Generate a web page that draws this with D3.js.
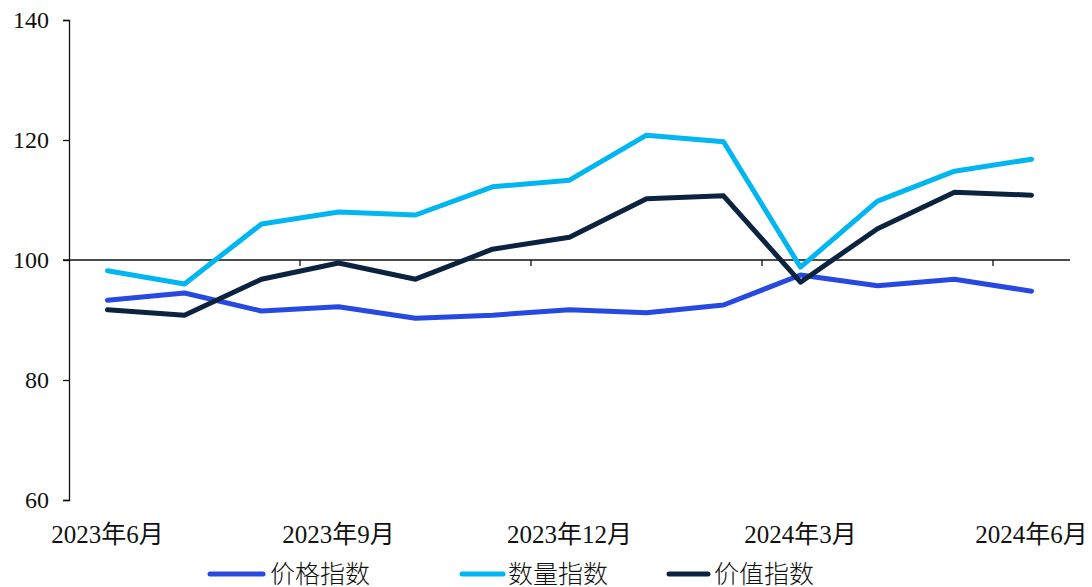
<!DOCTYPE html>
<html lang="zh">
<head>
	<meta charset="utf-8" />
	<title>价格 数量 价值指数</title>
	<script src="https://cdnjs.cloudflare.com/ajax/libs/d3/7.8.5/d3.min.js"></script>
	<style>
		body { margin: 0; background: #fff; }
		text { font-family: "Liberation Serif", "Noto Sans CJK SC", serif; fill: #111; }
	</style>
</head>
<body>
	<svg width="1092" height="587"></svg>
	<script>
		// months 2023-06 .. 2024-06
		let months = ["2023年6月", "2023年7月", "2023年8月", "2023年9月", "2023年10月", "2023年11月", "2023年12月",
			"2024年1月", "2024年2月", "2024年3月", "2024年4月", "2024年5月", "2024年6月"];
		let tickLabels = ["2023年6月", "2023年9月", "2023年12月", "2024年3月", "2024年6月"];
		let yTicks = [60, 80, 100, 120, 140];

		let priceIdx = [93.3, 94.5, 91.5, 92.2, 90.3, 90.8, 91.7, 91.2, 92.5, 97.5, 95.7, 96.8, 94.8];
		let volumeIdx = [98.2, 96.0, 106.0, 108.0, 107.5, 112.2, 113.3, 120.8, 119.7, 98.8, 109.8, 114.8, 116.8];
		let valueIdx = [91.7, 90.8, 96.8, 99.5, 96.8, 101.8, 103.8, 110.2, 110.7, 96.3, 105.2, 111.3, 110.8];

		let series = [
			{ name: "价格指数", values: priceIdx, color: "#2649e2" },
			{ name: "数量指数", values: volumeIdx, color: "#00b6f1" },
			{ name: "价值指数", values: valueIdx, color: "#0c2340" }
		];

		let svg = d3.select('svg');
		let plotL = 69, plotR = 1070, plotT = 20, plotB = 500;

		let x = d3.scaleBand().domain(months).range([plotL, plotR]);
		let y = d3.scaleLinear().domain([60, 140]).range([plotB, plotT]);
		let cx = m => x(m) + x.bandwidth() / 2;

		// y axis
		let yAxis = svg.append('g')
			.attr('transform', `translate(${plotL},0)`)
			.call(d3.axisLeft(y).tickValues(yTicks).tickSize(6).tickPadding(14));
		yAxis.select('.domain').attr('stroke', '#111').attr('stroke-width', 1.3);
		yAxis.selectAll('.tick line').attr('stroke', '#111').attr('stroke-width', 1.3);
		yAxis.selectAll('.tick text').attr('font-size', 24).attr('font-family', null).attr('fill', '#111');

		// horizontal category axis crossing at 100
		let catTicks = months.filter((m, i) => i % 3 == 0).map(m => x(m)).slice(1);
		let xAxis = svg.append('g').attr('transform', `translate(0,${y(100)})`);
		xAxis.append('line')
			.attr('x1', plotL - 6).attr('x2', plotR)
			.attr('stroke', '#111').attr('stroke-width', 1.3);
		xAxis.selectAll('line.tick')
			.data(catTicks)
			.enter()
			.append('line')
			.attr('class', 'tick')
			.attr('x1', d => d).attr('x2', d => d)
			.attr('y1', 0).attr('y2', 6)
			.attr('stroke', '#111').attr('stroke-width', 1.3);

		// category labels at bottom
		svg.selectAll('text.xlab')
			.data(tickLabels)
			.enter()
			.append('text')
			.attr('class', 'xlab')
			.attr('text-anchor', 'middle')
			.attr('font-size', 25)
			.attr('x', d => cx(d))
			.attr('y', 543)
			.text(d => d);

		let line = d3.line()
			.x((d, i) => cx(months[i]))
			.y(d => y(d));

		svg.selectAll('path.series')
			.data(series)
			.enter()
			.append('path')
			.attr('class', 'series')
			.attr('fill', 'none')
			.attr('stroke', d => d.color)
			.attr('stroke-width', 5)
			.attr('stroke-linecap', 'round')
			.attr('stroke-linejoin', 'round')
			.attr('d', d => line(d.values));

		// legend
		let legendLine = [[210, 263], [462, 503], [669, 708]];
		let legendText = [270, 508, 714];
		let legend = svg.selectAll('g.legend')
			.data(series)
			.enter()
			.append('g')
			.attr('class', 'legend')
			.attr('transform', 'translate(0,574)');
		legend.append('line')
			.attr('x1', (d, i) => legendLine[i][0]).attr('x2', (d, i) => legendLine[i][1])
			.attr('stroke', d => d.color)
			.attr('stroke-width', 5)
			.attr('stroke-linecap', 'round');
		legend.append('text')
			.attr('x', (d, i) => legendText[i])
			.attr('y', 9)
			.attr('font-size', 25)
			.attr('font-weight', 300)
			.text(d => d.name);
	</script>
</body>
</html>
